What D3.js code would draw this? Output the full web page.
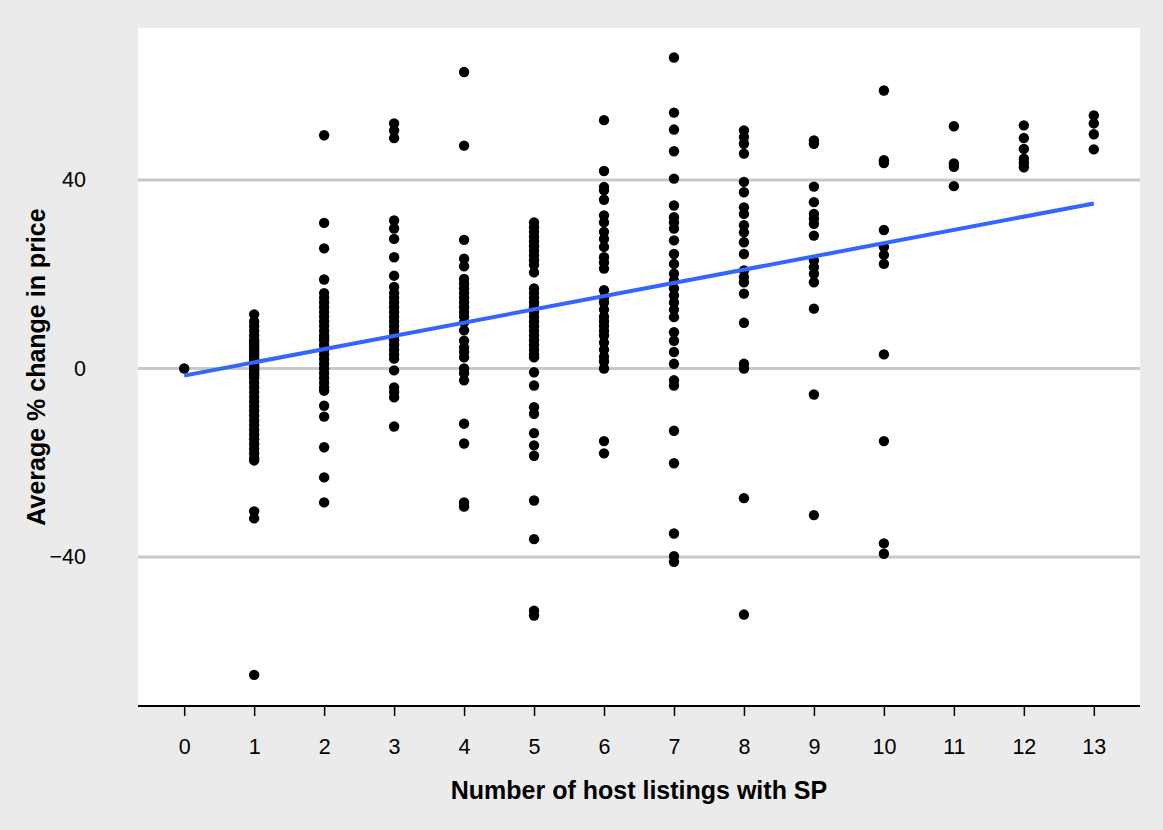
<!DOCTYPE html>
<html>
<head>
<meta charset="utf-8">
<script src="https://cdn.jsdelivr.net/npm/d3@7"></script>
<style>
  html, body { margin: 0; padding: 0; background: #ebebeb; }
  svg { display: block; }
  text { font-family: "Liberation Sans", Arial, Helvetica, sans-serif; }
</style>
</head>
<body>
<svg id="chart" width="1163" height="830"></svg>
<script>
// ---- data ----
const xTicks = [0,1,2,3,4,5,6,7,8,9,10,11,12,13];
const yTicks = [-40, 0, 40];
const yTickLabels = ["\u221240", "0", "40"];
const xTitle = "Number of host listings with SP";
const yTitle = "Average % change in price";

const col0 = [0];
const col1 = [11.5,10,9,8,7,6,5.5,5,4.5,4,3.5,3,2.5,2,1.5,1,0.5,0,-0.5,-1,-1.5,-2,-3,-4,-5,-6,-7,-8,-9,-10,-11,-12,-13,-14,-15,-16,-17,-18,-19,-19.5,-30.3,-31.8,-65];
const col2 = [49.5,30.9,25.5,18.9,16,15,14,13,12,11,10,9,8,7,6.5,6,5,4,3,2,1,0,-1,-2,-3,-4,-4.7,-7.9,-10.2,-16.7,-23.1,-28.4];
const col3 = [52,50.5,48.9,31.4,29.7,27.5,23.6,19.7,17.3,16,15,14,13,12,11,10,9,8,7,6,5,4,3,2.1,-0.4,-4,-5,-6.1,-12.3];
const col4 = [62.9,47.3,27.3,23.3,21.7,19,18,17,16,15,14,13,12,11,9.8,8.1,5.9,4.5,3.5,2.4,0,-1,-2.5,-11.7,-15.9,-28.4,-29.3];
const col5 = [31,30,29,28,27,26,25,24,23,22,20.4,17,16,15,14,13,12,11,10,9,8,7,6,5,4,3,2.4,-0.8,-3.6,-8.2,-9.6,-13.7,-16.3,-18.5,-28,-36.2,-51.4,-52.4];
const col6 = [52.7,41.9,38.5,37.8,35.8,32.5,31,29,27.5,25.8,23.6,22.5,21.2,16.6,15,14,12.5,11,10,9,8,7,5.5,4,2.5,1.5,0,-15.4,-18];
const col7 = [66,54.3,50.7,46.1,40.3,34.6,32.1,31,29.7,27.2,24.3,22.2,20.1,18.7,17,15.5,14,12.5,10.9,7.7,5.9,3.5,1,-2.5,-3.6,-13.2,-20.1,-35,-39.8,-41];
const col8 = [50.5,49.1,47.7,45.6,39.6,37.4,34.2,32.8,30.4,28.9,26.8,24.3,20.8,19.4,18.3,15.9,9.7,1,0,-27.5,-52.2];
const col9 = [48.4,47.7,38.6,35.3,32.8,31.8,30.7,28.2,22.9,21.5,20.1,18.3,12.7,-5.5,-31.1];
const col10 = [59,44.2,43.6,29.4,25.8,24.1,22.2,3,-15.4,-37.1,-39.3];
const col11 = [51.4,43.5,42.8,38.7];
const col12 = [51.6,48.9,46.6,44.5,43.6,42.7];
const col13 = [53.7,52,49.7,46.5];
const columns = [col0,col1,col2,col3,col4,col5,col6,col7,col8,col9,col10,col11,col12,col13];

// fitted trend line
const trendIntercept = -1.5;
const trendSlope = 2.81;
const trendX = [0, 13];

// ---- build ----
const points = [];
columns.forEach((vals, i) => vals.forEach(v => points.push({x: xTicks[i], y: v})));

const svg = d3.select("#chart");
const panel = {left: 138, right: 1140, top: 28, bottom: 706};

const x = d3.scaleLinear().domain([-0.66, 13.66]).range([panel.left, panel.right]);
const y = d3.scaleLinear().domain([-71.6, 72.25]).range([panel.bottom, panel.top]);

// panel background
svg.append("rect")
  .attr("x", panel.left).attr("y", panel.top)
  .attr("width", panel.right - panel.left).attr("height", panel.bottom - panel.top)
  .attr("fill", "#ffffff");

// grid lines
svg.append("g").selectAll("line").data(yTicks).join("line")
  .attr("x1", panel.left).attr("x2", panel.right)
  .attr("y1", d => y(d)).attr("y2", d => y(d))
  .attr("stroke", "#c8c8c8").attr("stroke-width", 3);

// points
svg.append("g").selectAll("circle").data(points).join("circle")
  .attr("cx", d => x(d.x)).attr("cy", d => y(d.y))
  .attr("r", 5.2).attr("fill", "#000");

// trend line
svg.append("line")
  .attr("x1", x(trendX[0])).attr("y1", y(trendIntercept + trendSlope * trendX[0]))
  .attr("x2", x(trendX[1])).attr("y2", y(trendIntercept + trendSlope * trendX[1]))
  .attr("stroke", "#3366ff").attr("stroke-width", 4);

// x axis
const xAxis = d3.axisBottom(x).tickValues(xTicks).tickSize(10).tickPadding(23).tickFormat(d3.format("d"));
const gx = svg.append("g").attr("transform", `translate(0,${panel.bottom})`).call(xAxis);
gx.select(".domain").attr("d", `M${panel.left},0H${panel.right}`).attr("stroke", "#000").attr("stroke-width", 2);
gx.selectAll(".tick line").attr("stroke", "#000").attr("stroke-width", 1.5);
gx.selectAll(".tick text").attr("font-size", 21.5).attr("fill", "#000")
  .style("font-family", "'Liberation Sans', Arial, sans-serif");

// y axis labels (no line/ticks)
const yAxis = d3.axisLeft(y).tickValues(yTicks).tickSize(0).tickPadding(0)
  .tickFormat((d, i) => yTickLabels[i]);
const gy = svg.append("g").attr("transform", `translate(${86},0)`).call(yAxis);
gy.select(".domain").remove();
gy.selectAll(".tick text").attr("font-size", 21.5).attr("fill", "#000")
  .style("font-family", "'Liberation Sans', Arial, sans-serif");

// titles
svg.append("text")
  .attr("x", (panel.left + panel.right) / 2).attr("y", 799)
  .attr("text-anchor", "middle")
  .attr("font-size", 25).attr("font-weight", "bold").attr("fill", "#000")
  .text(xTitle);
svg.append("text")
  .attr("transform", `translate(45,${(panel.top + panel.bottom) / 2}) rotate(-90)`)
  .attr("text-anchor", "middle")
  .attr("font-size", 25).attr("font-weight", "bold").attr("fill", "#000")
  .text(yTitle);
</script>
</body>
</html>
